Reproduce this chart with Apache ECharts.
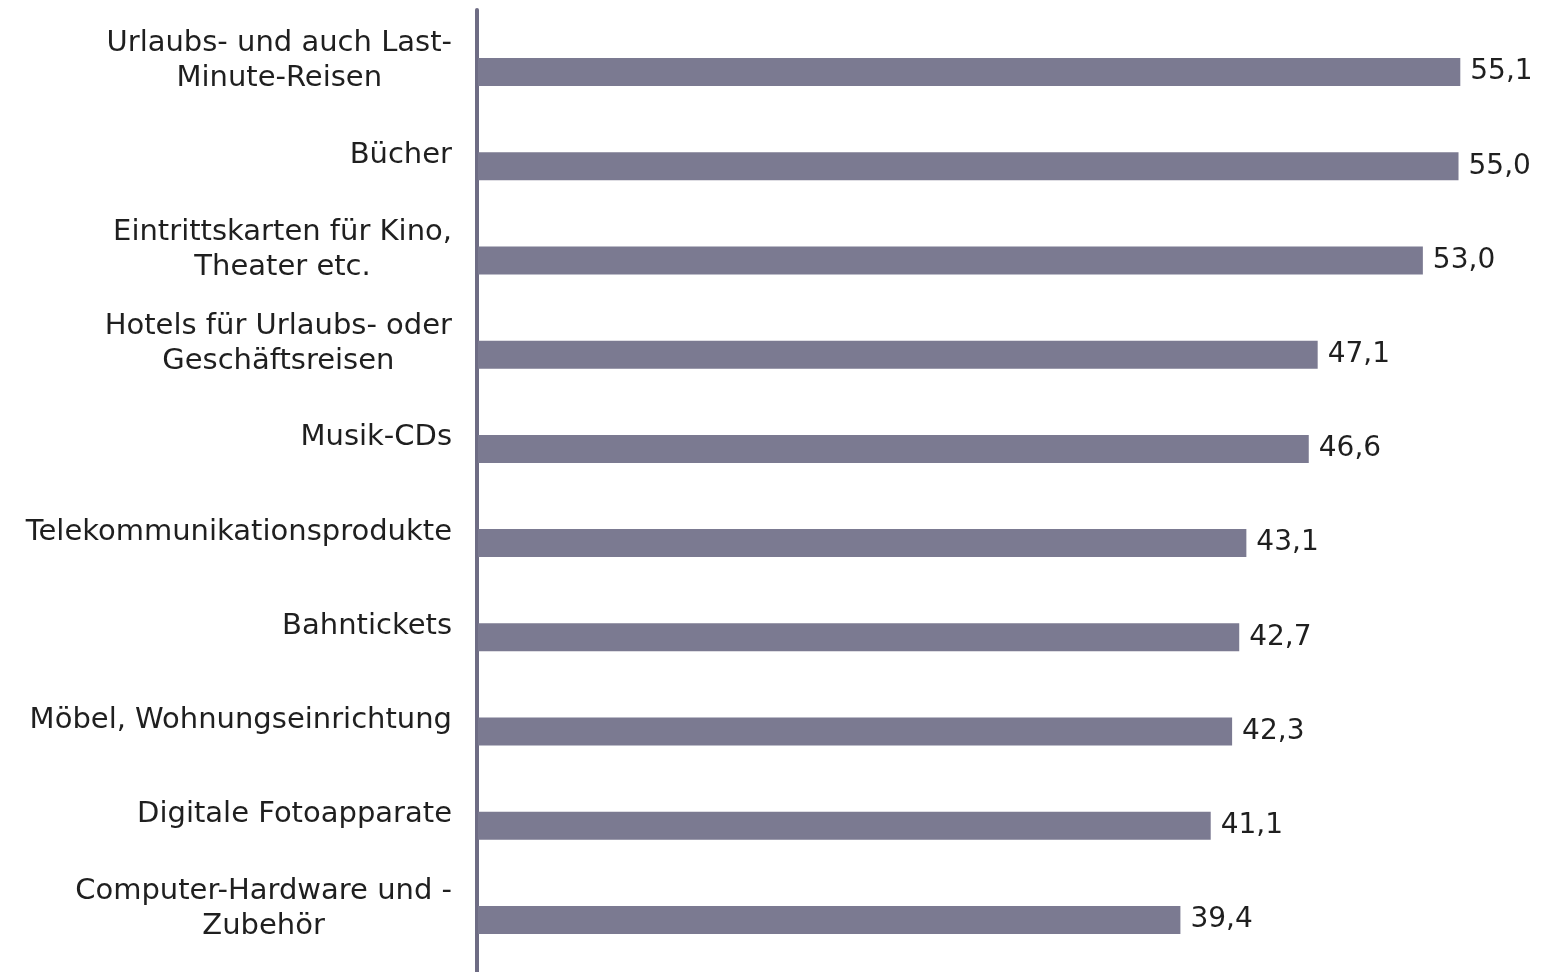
<!DOCTYPE html>
<html>
<head>
<meta charset="utf-8">
<script src="https://cdn.jsdelivr.net/npm/echarts@6/dist/echarts.min.js"></script>
<style>
html,body{margin:0;padding:0;background:#fff;}
#chart{width:1541px;height:972px;}
</style>
</head>
<body>
<div id="chart"></div>
<script>
const categories = [
  "Urlaubs- und auch Last-\nMinute-Reisen",
  "Bücher",
  "Eintrittskarten für Kino,\nTheater etc.",
  "Hotels für Urlaubs- oder\nGeschäftsreisen",
  "Musik-CDs",
  "Telekommunikationsprodukte",
  "Bahntickets",
  "Möbel, Wohnungseinrichtung",
  "Digitale Fotoapparate",
  "Computer-Hardware und -\nZubehör"
];
const values = [55.1, 55.0, 53.0, 47.1, 46.6, 43.1, 42.7, 42.3, 41.1, 39.4];

const chart = echarts.init(document.getElementById('chart'));
const font = 'DejaVu Sans';
chart.setOption({
  animation: false,
  backgroundColor: '#ffffff',
  grid: [
    { left: 478, top: 25, width: 1034, height: 942, containLabel: false },
    { left: 477, top: 10, width: 1, bottom: -20, containLabel: false }
  ],
  xAxis: [
    { type: 'value', gridIndex: 0, min: 0, max: 58, show: false },
    { type: 'value', gridIndex: 1, min: 0, max: 1, show: false }
  ],
  yAxis: [
    {
      type: 'category', gridIndex: 0, inverse: true, data: categories,
      axisLine: { show: false }, axisTick: { show: false }, splitLine: { show: false },
      axisLabel: {
        fontFamily: font, fontSize: 29, color: '#1f1f1f', lineHeight: 35,
        align: 'right', margin: 26, padding: [0, 0, 22, 0],
        formatter: function (v) {
          return v.split('\n').map(function (s) { return '{c|' + s + '}'; }).join('\n');
        },
        rich: {
          c: { fontFamily: font, fontSize: 29, color: '#1f1f1f', lineHeight: 35, align: 'center' }
        }
      }
    },
    {
      type: 'value', gridIndex: 1, min: 0, max: 1, position: 'left',
      axisLine: { show: true, onZero: false, lineStyle: { color: '#6e6c84', width: 4, cap: 'round' } },
      axisTick: { show: false }, axisLabel: { show: false }, splitLine: { show: false }
    }
  ],
  series: [{
    type: 'bar', xAxisIndex: 0, yAxisIndex: 0,
    data: values, barWidth: 28,
    itemStyle: { color: '#7b7a91' },
    label: {
      show: true, position: 'right', distance: 10,
      fontFamily: font, fontSize: 28, color: '#1f1f1f',
      formatter: function (p) { return p.value.toFixed(1).replace('.', ','); }
    }
  }]
});
</script>
</body>
</html>
